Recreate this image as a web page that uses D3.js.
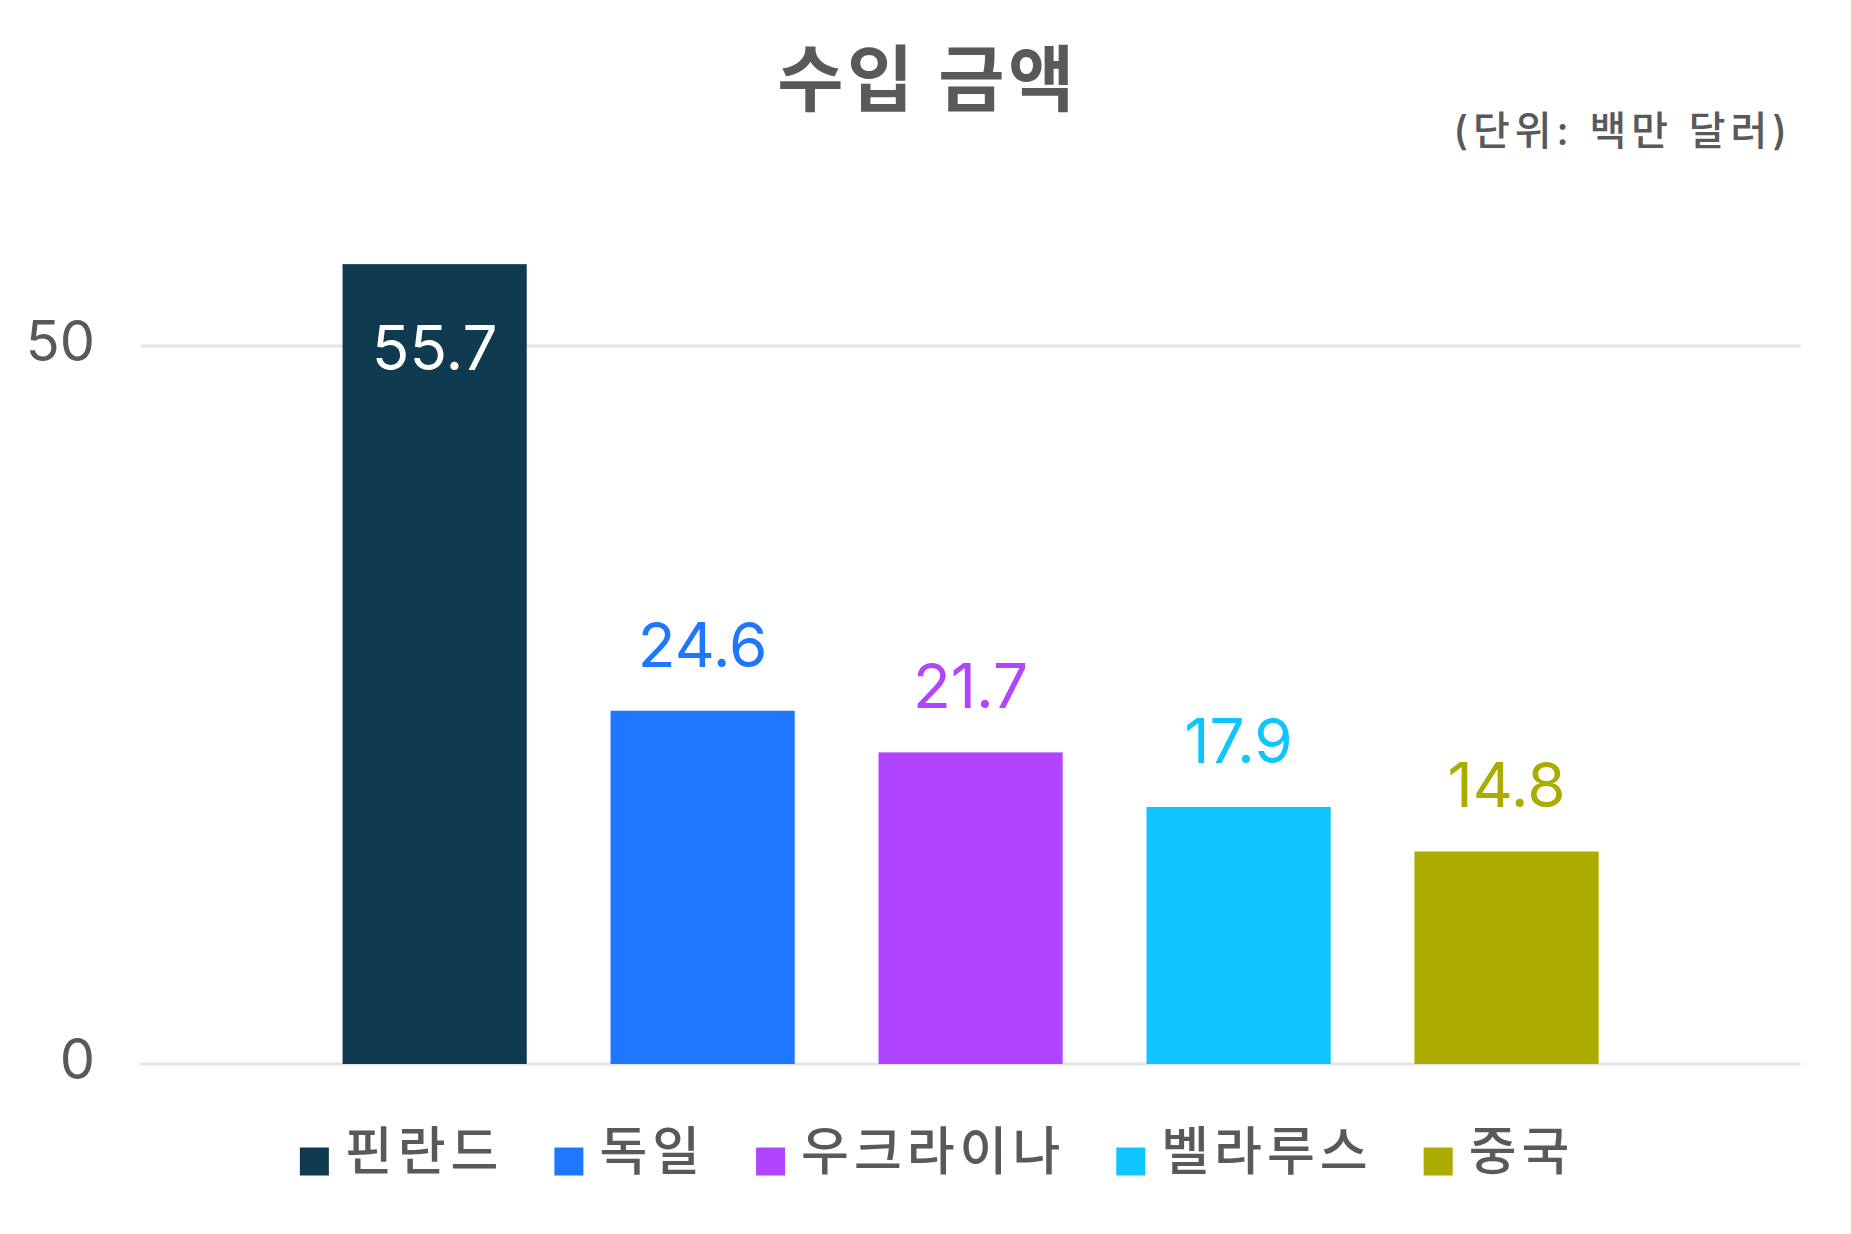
<!DOCTYPE html>
<html><head><meta charset="utf-8">
<script src="https://cdn.jsdelivr.net/npm/d3@7"></script>
<style>
html,body{margin:0;padding:0;background:#fff;}
text{font-family:Inter,"Noto Sans CJK KR",sans-serif;}
</style></head>
<body>
<svg id="chart" width="1851" height="1234"></svg>
<script>
const categories = ["핀란드","독일","우크라이나","벨라루스","중국"];
const values = [55.7, 24.6, 21.7, 17.9, 14.8];
const colors = ["#0f3a4f","#1f77ff","#b144ff","#10c4ff","#abab00"];
const yTicks = [0, 50];
const titleText = "수입 금액";
const unitText = "(단위: 백만 달러)";

const svg = d3.select("#chart");
const W = 1851;
const plotLeft = 140.5, plotRight = 1800.7;
const y0 = 1064, y50 = 346;
const pxPerUnit = (y0 - y50) / 50;
const y = d3.scaleLinear().domain([0, 60]).range([y0, y0 - 60 * pxPerUnit]);
const x = d3.scaleBand().domain(categories).range([plotLeft, plotRight])
  .paddingInner(0.3127).paddingOuter(0.754);
const color = d3.scaleOrdinal().domain(categories).range(colors);

// gridlines
svg.append("g").selectAll("line").data(yTicks).join("line")
  .attr("x1", plotLeft).attr("x2", plotRight)
  .attr("y1", d => y(d)).attr("y2", d => y(d))
  .attr("stroke", "#e4e4e4").attr("stroke-width", 3);

// y axis labels
const yAxis = d3.axisLeft(y).tickValues(yTicks).tickSize(0).tickPadding(0);
const ya = svg.append("g").attr("transform", "translate(95,0)").call(yAxis);
ya.select(".domain").remove();
ya.selectAll("text").attr("font-size", 56).attr("fill", "#595959")
  .attr("font-family", "Inter,'Noto Sans CJK KR',sans-serif").attr("dy", "0.25em");

// bars
svg.append("g").selectAll("rect").data(values).join("rect")
  .attr("x", (d, i) => x(categories[i]))
  .attr("width", x.bandwidth())
  .attr("y", d => y(d))
  .attr("height", d => y(0) - y(d))
  .attr("fill", (d, i) => color(categories[i]));

// value labels
svg.append("g").selectAll("text").data(values).join("text")
  .attr("x", (d, i) => x(categories[i]) + x.bandwidth() / 2)
  .attr("y", d => d > 50 ? y(d) + 106 : y(d) - 44)
  .attr("text-anchor", "middle")
  .attr("font-size", 62)
  .attr("fill", (d, i) => d > 50 ? "#ffffff" : color(categories[i]))
  .text(d => d.toFixed(1));

// title
svg.append("text").attr("x", 925.5 + 2).attr("y", 104.5).attr("text-anchor", "middle")
  .attr("font-size", 72).attr("font-weight", 600).attr("letter-spacing", 3.5)
  .attr("fill", "#595959").text(titleText);
svg.append("text").attr("x", 1787 + 5).attr("y", 145).attr("text-anchor", "end")
  .attr("font-size", 40).attr("font-weight", 500).attr("letter-spacing", 5)
  .attr("fill", "#595959").text(unitText);

// legend
const legend = svg.append("g");
const items = legend.selectAll("g").data(categories).join("g");
items.append("rect").attr("width", 29).attr("height", 28).attr("y", 1147.5)
  .attr("fill", d => color(d));
items.append("text").attr("x", 45).attr("y", 1170)
  .attr("font-size", 52).attr("font-weight", 500).attr("letter-spacing", 5)
  .attr("fill", "#595959").text(d => d);
const widths = items.nodes().map(n => n.getBBox().width - 5);
const gap = 56;
const total = d3.sum(widths) + gap * (widths.length - 1);
let cx = 934.6 - total / 2;
items.attr("transform", (d, i) => {
  const t = `translate(${cx},0)`;
  cx += widths[i] + gap;
  return t;
});
</script>
</body></html>
